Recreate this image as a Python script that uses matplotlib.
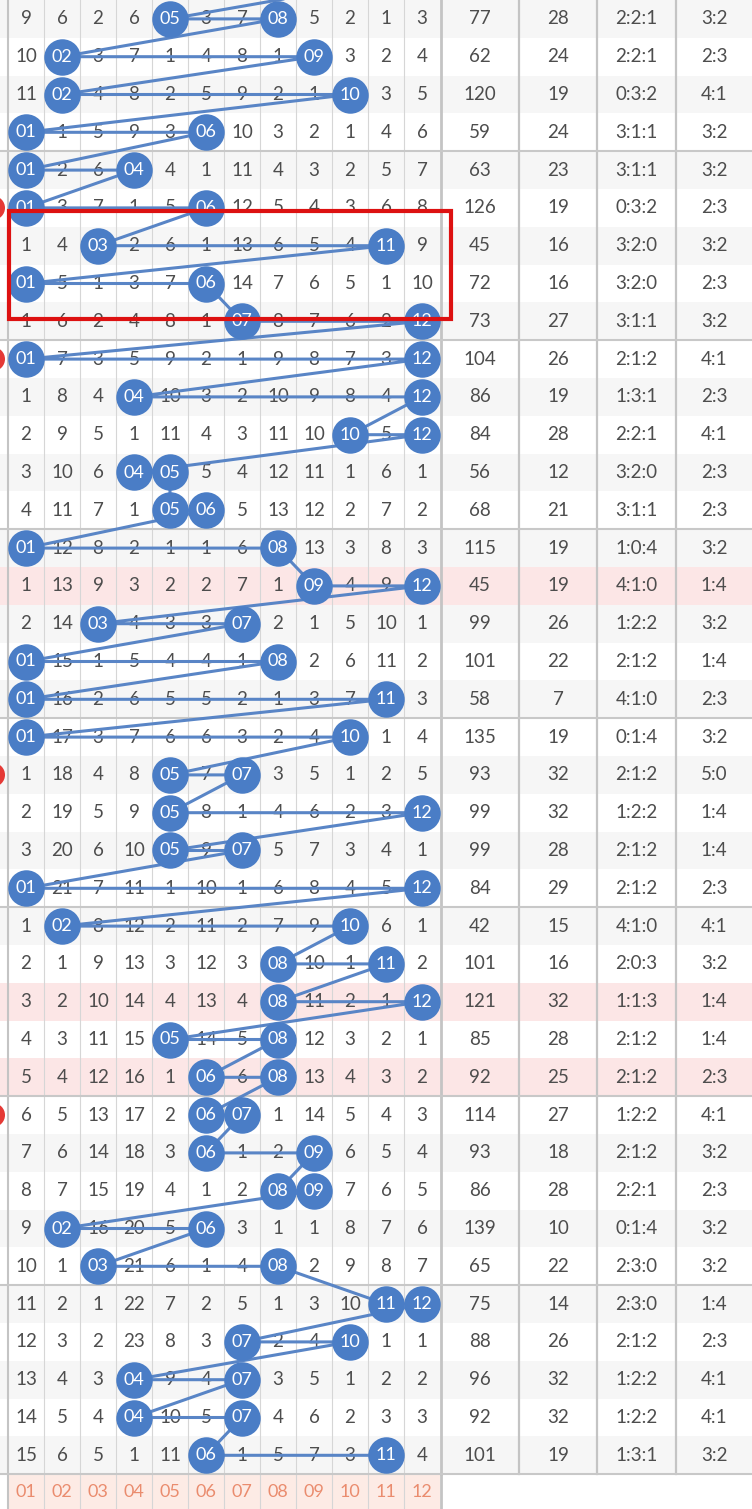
import matplotlib
matplotlib.use("Agg")
import matplotlib.pyplot as plt
from matplotlib.patches import Rectangle, Circle

# miss counts per row, 0 = number drawn (shown as a blue ball)
rows = [
    [9, 6, 2, 6, 0, 3, 7, 0, 5, 2, 1, 3],
    [10, 0, 3, 7, 1, 4, 8, 1, 0, 3, 2, 4],
    [11, 0, 4, 8, 2, 5, 9, 2, 1, 0, 3, 5],
    [0, 1, 5, 9, 3, 0, 10, 3, 2, 1, 4, 6],
    [0, 2, 6, 0, 4, 1, 11, 4, 3, 2, 5, 7],
    [0, 3, 7, 1, 5, 0, 12, 5, 4, 3, 6, 8],
    [1, 4, 0, 2, 6, 1, 13, 6, 5, 4, 0, 9],
    [0, 5, 1, 3, 7, 0, 14, 7, 6, 5, 1, 10],
    [1, 6, 2, 4, 8, 1, 0, 8, 7, 6, 2, 0],
    [0, 7, 3, 5, 9, 2, 1, 9, 8, 7, 3, 0],
    [1, 8, 4, 0, 10, 3, 2, 10, 9, 8, 4, 0],
    [2, 9, 5, 1, 11, 4, 3, 11, 10, 0, 5, 0],
    [3, 10, 6, 0, 0, 5, 4, 12, 11, 1, 6, 1],
    [4, 11, 7, 1, 0, 0, 5, 13, 12, 2, 7, 2],
    [0, 12, 8, 2, 1, 1, 6, 0, 13, 3, 8, 3],
    [1, 13, 9, 3, 2, 2, 7, 1, 0, 4, 9, 0],
    [2, 14, 0, 4, 3, 3, 0, 2, 1, 5, 10, 1],
    [0, 15, 1, 5, 4, 4, 1, 0, 2, 6, 11, 2],
    [0, 16, 2, 6, 5, 5, 2, 1, 3, 7, 0, 3],
    [0, 17, 3, 7, 6, 6, 3, 2, 4, 0, 1, 4],
    [1, 18, 4, 8, 0, 7, 0, 3, 5, 1, 2, 5],
    [2, 19, 5, 9, 0, 8, 1, 4, 6, 2, 3, 0],
    [3, 20, 6, 10, 0, 9, 0, 5, 7, 3, 4, 1],
    [0, 21, 7, 11, 1, 10, 1, 6, 8, 4, 5, 0],
    [1, 0, 8, 12, 2, 11, 2, 7, 9, 0, 6, 1],
    [2, 1, 9, 13, 3, 12, 3, 0, 10, 1, 0, 2],
    [3, 2, 10, 14, 4, 13, 4, 0, 11, 2, 1, 0],
    [4, 3, 11, 15, 0, 14, 5, 0, 12, 3, 2, 1],
    [5, 4, 12, 16, 1, 0, 6, 0, 13, 4, 3, 2],
    [6, 5, 13, 17, 2, 0, 0, 1, 14, 5, 4, 3],
    [7, 6, 14, 18, 3, 0, 1, 2, 0, 6, 5, 4],
    [8, 7, 15, 19, 4, 1, 2, 0, 0, 7, 6, 5],
    [9, 0, 16, 20, 5, 0, 3, 1, 1, 8, 7, 6],
    [10, 1, 0, 21, 6, 1, 4, 0, 2, 9, 8, 7],
    [11, 2, 1, 22, 7, 2, 5, 1, 3, 10, 0, 0],
    [12, 3, 2, 23, 8, 3, 0, 2, 4, 0, 1, 1],
    [13, 4, 3, 0, 9, 4, 0, 3, 5, 1, 2, 2],
    [14, 5, 4, 0, 10, 5, 0, 4, 6, 2, 3, 3],
    [15, 6, 5, 1, 11, 0, 1, 5, 7, 3, 0, 4],
]
# last ball of the row above the visible part (only its line shows)
prev_hit = 11

sums = [77, 62, 120, 59, 63, 126, 45, 72, 73, 104, 86, 84, 56, 68, 115, 45, 99, 101, 58, 135,
        93, 99, 99, 84, 42, 101, 121, 85, 92, 114, 93, 86, 139, 65, 75, 88, 96, 92, 101]
spans = [28, 24, 19, 24, 23, 19, 16, 16, 27, 26, 19, 28, 12, 21, 19, 19, 26, 22, 7, 19,
         32, 32, 28, 29, 15, 16, 32, 28, 25, 27, 18, 28, 10, 22, 14, 26, 32, 32, 19]
ratio3 = ['2:2:1', '2:2:1', '0:3:2', '3:1:1', '3:1:1', '0:3:2', '3:2:0', '3:2:0', '3:1:1', '2:1:2',
          '1:3:1', '2:2:1', '3:2:0', '3:1:1', '1:0:4', '4:1:0', '1:2:2', '2:1:2', '4:1:0', '0:1:4',
          '2:1:2', '1:2:2', '2:1:2', '2:1:2', '4:1:0', '2:0:3', '1:1:3', '2:1:2', '2:1:2', '1:2:2',
          '2:1:2', '2:2:1', '0:1:4', '2:3:0', '2:3:0', '2:1:2', '1:2:2', '1:2:2', '1:3:1']
ratio2 = ['3:2', '2:3', '4:1', '3:2', '3:2', '2:3', '3:2', '2:3', '3:2', '4:1',
          '2:3', '4:1', '2:3', '2:3', '3:2', '1:4', '3:2', '1:4', '2:3', '3:2',
          '5:0', '1:4', '1:4', '2:3', '4:1', '3:2', '1:4', '1:4', '2:3', '4:1',
          '3:2', '2:3', '3:2', '3:2', '1:4', '2:3', '4:1', '4:1', '3:2']
footer = ['01', '02', '03', '04', '05', '06', '07', '08', '09', '10', '11', '12']
pink_rows = [15, 26, 28]
red_dot_rows = [5, 9, 20, 29]

# layout (pixels)
W, H = 752, 1509
RH = 37.8
X0, CW = 8, 36
right_edges = [441, 519, 597, 676, 752]
BLUE = '#4a7dc6'
LINE = '#5985c6'
GREY_TXT = '#4d4d4d'
FONT = ['Lato', 'DejaVu Sans']

fig = plt.figure(figsize=(W / 100, H / 100), dpi=100)
ax = fig.add_axes([0, 0, 1, 1])
ax.set_xlim(0, W)
ax.set_ylim(H, 0)
ax.axis('off')

n = len(rows)
yc = lambda i: (i + 0.5) * RH
xc = lambda j: X0 + CW * (j + 0.5)

# row backgrounds
for i in range(n):
    if i in pink_rows:
        col = '#fce6e6'
    elif i % 2 == 0:
        col = '#f6f6f6'
    else:
        col = '#ffffff'
    ax.add_patch(Rectangle((0, i * RH), W, RH, color=col, zorder=0, lw=0))
# footer
ax.add_patch(Rectangle((X0, n * RH), CW * 12, H - n * RH, color='#fdebe5', zorder=0, lw=0))

# grid lines
for j in range(1, 12):
    ax.plot([X0 + CW * j] * 2, [0, H], color='#d6d6d6', lw=0.8, zorder=1)
ax.plot([X0, X0], [0, H], color='#c4c4c4', lw=1.5, zorder=1)
for k, xe in enumerate(right_edges[:-1]):
    ax.plot([xe, xe], [0, n * RH], color='#c4c4c4', lw=1.6 if k else 2.0, zorder=1)
ax.plot([right_edges[0]] * 2, [n * RH, H], color='#c4c4c4', lw=2.0, zorder=1)
for i in range(4, n + 1, 5):
    ax.plot([0, W], [i * RH] * 2, color='#c8c8c8', lw=1.5, zorder=1)

# miss counts and right-hand columns
rc = [(right_edges[k] + right_edges[k + 1]) / 2 for k in range(4)]
for i, r in enumerate(rows):
    for j, v in enumerate(r):
        if v:
            ax.text(xc(j), yc(i), str(v), ha='center', va='center', fontsize=13.5,
                    color=GREY_TXT, family=FONT, zorder=2)
    for x, s in zip(rc, [sums[i], spans[i], ratio3[i], ratio2[i]]):
        ax.text(x, yc(i), str(s), ha='center', va='center', fontsize=13.5,
                color=GREY_TXT, family=FONT, zorder=2)

for j, s in enumerate(footer):
    ax.text(xc(j), (n * RH + H) / 2, s, ha='center', va='center', fontsize=13,
            color='#ea8c6e', family=FONT, zorder=2)

# connecting polyline through all drawn numbers
px, py = [xc(prev_hit - 1)], [yc(-1)]
bx, by, bl = [], [], []
for i, r in enumerate(rows):
    for j, v in enumerate(r):
        if v == 0:
            px.append(xc(j)); py.append(yc(i))
            bx.append(xc(j)); by.append(yc(i)); bl.append(footer[j])
ax.plot(px, py, color=LINE, lw=2.2, zorder=3, solid_capstyle='round')
ax.scatter(bx, by, s=690, color=BLUE, zorder=4, linewidths=0)
for x, y, s in zip(bx, by, bl):
    ax.text(x, y, s, ha='center', va='center', fontsize=13, color='white',
            family=FONT, zorder=5)

# red marks at the left edge
for i in red_dot_rows:
    ax.add_patch(Circle((-7, yc(i)), 12, color='#e53935', zorder=6, lw=0))

# red highlight box
ax.add_patch(Rectangle((X0 + 1, 5.58 * RH), 442, 2.87 * RH, fill=False,
                       edgecolor='#dd1111', lw=3, zorder=7))

fig.savefig('out.png', dpi=100)
